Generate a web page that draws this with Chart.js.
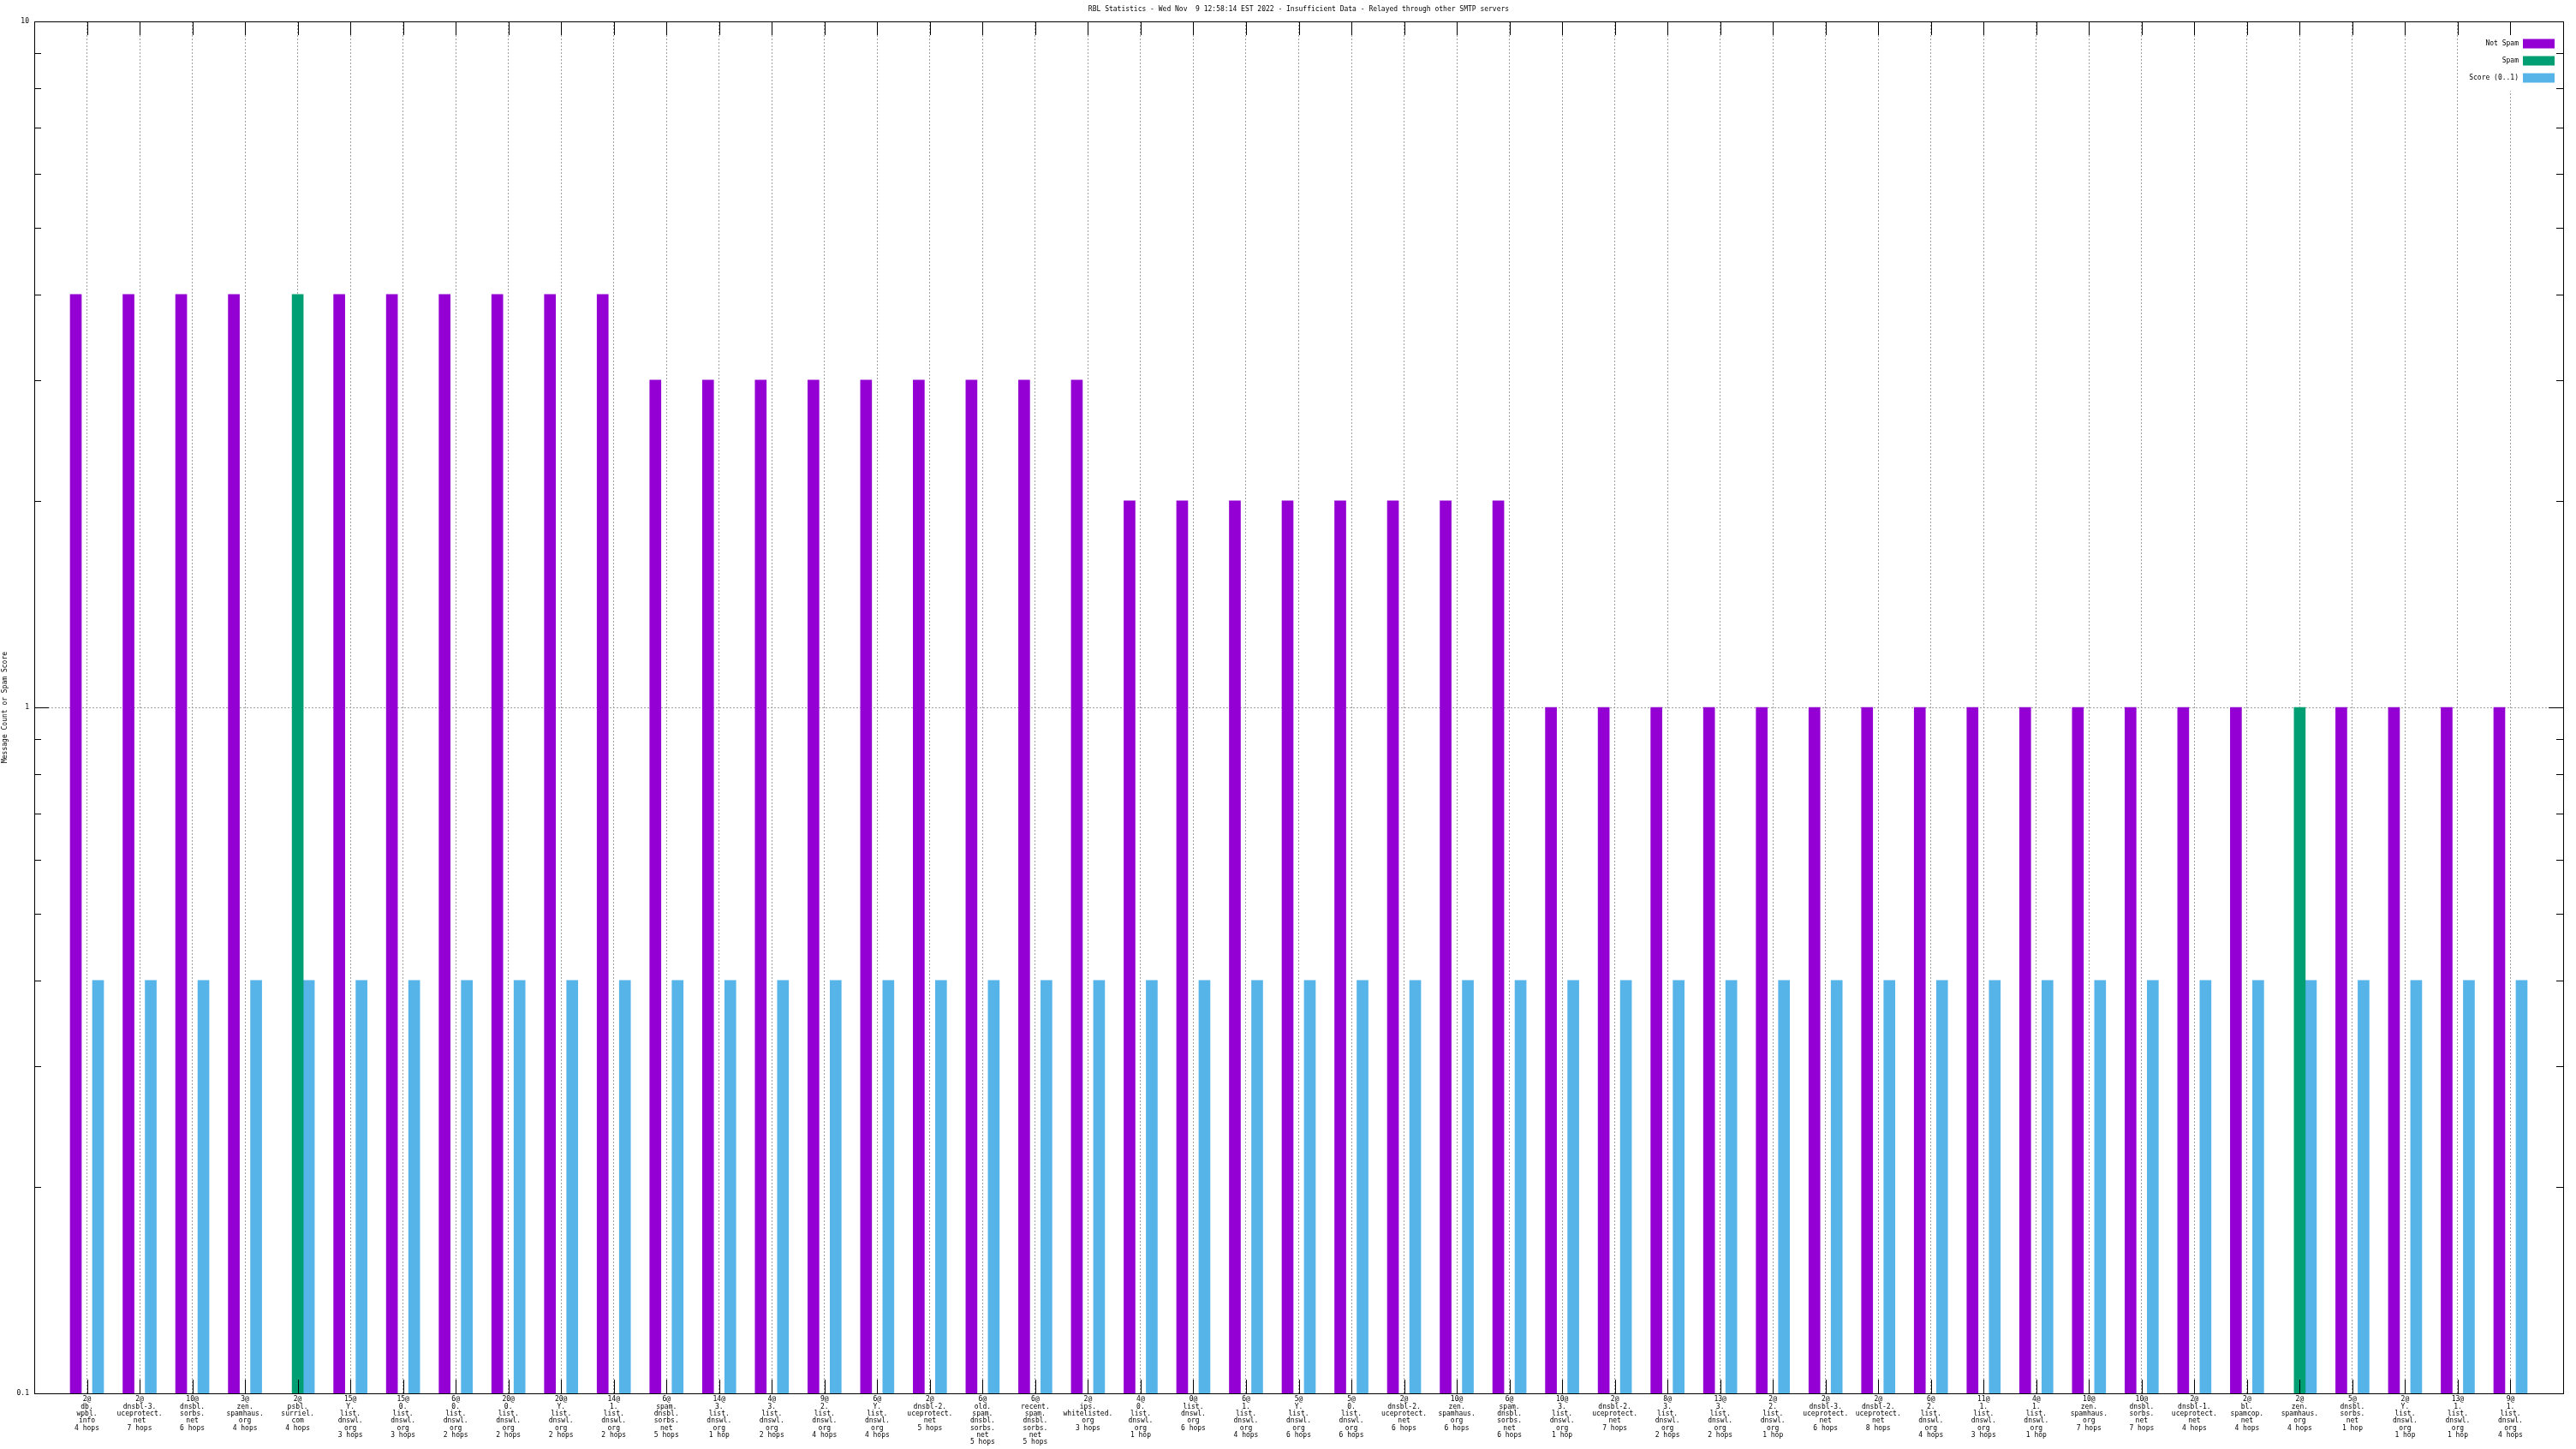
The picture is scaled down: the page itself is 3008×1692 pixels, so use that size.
<!DOCTYPE html>
<html><head><meta charset="utf-8">
<script src="https://cdn.jsdelivr.net/npm/chart.js@4/dist/chart.umd.min.js"></script>
<style>html,body{margin:0;padding:0;background:#fff;overflow:hidden}#c{display:block}</style>
</head><body><canvas id="c" width="3008" height="1692"></canvas>
<script>
const TITLE = 'RBL Statistics - Wed Nov  9 12:58:14 EST 2022 - Insufficient Data - Relayed through other SMTP servers';
const Y_TITLE = 'Message Count or Spam Score';
const seriesNames = ['Not Spam', 'Spam', 'Score (0..1)'];
const seriesColors = ['#9400d3', '#009e73', '#56b4e9'];
const categories = [
  "2@|db.|wpbl.|info|4 hops",
  "2@|dnsbl-3.|uceprotect.|net|7 hops",
  "10@|dnsbl.|sorbs.|net|6 hops",
  "3@|zen.|spamhaus.|org|4 hops",
  "2@|psbl.|surriel.|com|4 hops",
  "15@|Y.|list.|dnswl.|org|3 hops",
  "15@|0.|list.|dnswl.|org|3 hops",
  "6@|0.|list.|dnswl.|org|2 hops",
  "20@|0.|list.|dnswl.|org|2 hops",
  "20@|Y.|list.|dnswl.|org|2 hops",
  "14@|1.|list.|dnswl.|org|2 hops",
  "6@|spam.|dnsbl.|sorbs.|net|5 hops",
  "14@|3.|list.|dnswl.|org|1 hop",
  "4@|3.|list.|dnswl.|org|2 hops",
  "9@|2.|list.|dnswl.|org|4 hops",
  "6@|Y.|list.|dnswl.|org|4 hops",
  "2@|dnsbl-2.|uceprotect.|net|5 hops",
  "6@|old.|spam.|dnsbl.|sorbs.|net|5 hops",
  "6@|recent.|spam.|dnsbl.|sorbs.|net|5 hops",
  "2@|ips.|whitelisted.|org|3 hops",
  "4@|0.|list.|dnswl.|org|1 hop",
  "0@|list.|dnswl.|org|6 hops",
  "6@|1.|list.|dnswl.|org|4 hops",
  "5@|Y.|list.|dnswl.|org|6 hops",
  "5@|0.|list.|dnswl.|org|6 hops",
  "2@|dnsbl-2.|uceprotect.|net|6 hops",
  "10@|zen.|spamhaus.|org|6 hops",
  "6@|spam.|dnsbl.|sorbs.|net|6 hops",
  "10@|3.|list.|dnswl.|org|1 hop",
  "2@|dnsbl-2.|uceprotect.|net|7 hops",
  "8@|3.|list.|dnswl.|org|2 hops",
  "13@|3.|list.|dnswl.|org|2 hops",
  "2@|2.|list.|dnswl.|org|1 hop",
  "2@|dnsbl-3.|uceprotect.|net|6 hops",
  "2@|dnsbl-2.|uceprotect.|net|8 hops",
  "6@|2.|list.|dnswl.|org|4 hops",
  "11@|1.|list.|dnswl.|org|3 hops",
  "4@|1.|list.|dnswl.|org|1 hop",
  "10@|zen.|spamhaus.|org|7 hops",
  "10@|dnsbl.|sorbs.|net|7 hops",
  "2@|dnsbl-1.|uceprotect.|net|4 hops",
  "2@|bl.|spamcop.|net|4 hops",
  "2@|zen.|spamhaus.|org|4 hops",
  "5@|dnsbl.|sorbs.|net|1 hop",
  "2@|Y.|list.|dnswl.|org|1 hop",
  "13@|1.|list.|dnswl.|org|1 hop",
  "9@|1.|list.|dnswl.|org|4 hops"
];
const notSpam = [4,4,4,4,null,4,4,4,4,4,4, 3,3,3,3,3,3,3,3,3, 2,2,2,2,2,2,2,2, 1,1,1,1,1,1,1,1,1,1,1,1,1,1,null,1,1,1,1];
const spam = [null,null,null,null,4,null,null,null,null,null,null, null,null,null,null,null,null,null,null,null, null,null,null,null,null,null,null,null, null,null,null,null,null,null,null,null,null,null,null,null,null,null,1,null,null,null,null];
const score = [0.4,0.4,0.4,0.4,0.4,0.4,0.4,0.4,0.4,0.4,0.4, 0.4,0.4,0.4,0.4,0.4,0.4,0.4,0.4,0.4, 0.4,0.4,0.4,0.4,0.4,0.4,0.4,0.4, 0.4,0.4,0.4,0.4,0.4,0.4,0.4,0.4,0.4,0.4,0.4,0.4,0.4,0.4,0.4,0.4,0.4,0.4,0.4];
const yTickValues = [0.1, 1, 10];
const yTickLabels = ['0.1', '1', '10'];
const yMinorValues = [0.2,0.3,0.4,0.5,0.6,0.7,0.8,0.9,2,3,4,5,6,7,8,9];

const FONT_FAMILY = '"DejaVu Sans Mono", "Liberation Mono", monospace';
const font = {family: FONT_FAMILY, size: 8, lineHeight: 1.04};
const labelLines = categories.map(s => s.split('|'));
const seriesData = [notSpam, spam, score];

const gnuplotFrame = {
  id: 'gnuplotFrame',
  afterDatasetsDraw(chart) {
    const {ctx, chartArea: a, scales} = chart;
    const xs = scales.x, ys = scales.y;
    ctx.save();
    // opaque key box
    ctx.fillStyle = '#fff';
    ctx.fillRect(a.right - 118, a.top + 16, 110, 65);
    // key
    ctx.font = '8px ' + FONT_FAMILY;
    ctx.textAlign = 'right';
    ctx.textBaseline = 'middle';
    chart.data.datasets.forEach((ds, i) => {
      const cy = a.top + 26 + i * 20;
      const bx = a.right - 10 - 37;
      ctx.fillStyle = ds.backgroundColor;
      ctx.fillRect(bx, cy - 5.5, 37, 11);
      ctx.fillStyle = '#000';
      ctx.fillText(ds.label, bx - 5, cy);
    });
    // ticks
    ctx.strokeStyle = '#000';
    ctx.lineWidth = 1;
    ctx.beginPath();
    xs.ticks.forEach(t => {
      const x = Math.round(xs.getPixelForValue(t.value)) + 0.5;
      ctx.moveTo(x, a.bottom); ctx.lineTo(x, a.bottom - 16);
      ctx.moveTo(x, a.top); ctx.lineTo(x, a.top + 16);
    });
    yTickValues.forEach(v => {
      const y = Math.round(ys.getPixelForValue(v)) + 0.5;
      ctx.moveTo(a.left, y); ctx.lineTo(a.left + 17, y);
      ctx.moveTo(a.right, y); ctx.lineTo(a.right - 17, y);
    });
    yMinorValues.forEach(v => {
      const y = Math.round(ys.getPixelForValue(v)) + 0.5;
      ctx.moveTo(a.left, y); ctx.lineTo(a.left + 8, y);
      ctx.moveTo(a.right, y); ctx.lineTo(a.right - 8, y);
    });
    ctx.stroke();
    // border
    ctx.strokeRect(Math.round(a.left) + 0.5, Math.round(a.top) + 0.5,
                   Math.round(a.right - a.left), Math.round(a.bottom - a.top));
    ctx.restore();
  }
};

new Chart(document.getElementById('c'), {
  type: 'bar',
  data: {
    datasets: seriesNames.map((name, k) => ({
      label: name,
      data: seriesData[k].map((v, i) => ({x: i, y: v})),
      backgroundColor: seriesColors[k],
      borderWidth: 0,
      barThickness: 13
    }))
  },
  options: {
    responsive: false,
    animation: false,
    devicePixelRatio: 1,
    layout: {padding: {right: 15, left: 0, top: 0, bottom: 0}},
    plugins: {
      legend: {display: false},
      tooltip: {enabled: false},
      title: {display: true, text: TITLE, color: '#000', fullSize: false,
              font: {family: FONT_FAMILY, size: 8, lineHeight: 1.2, weight: 'normal'},
              padding: {top: 6, bottom: 9.4}}
    },
    scales: {
      x: {
        type: 'linear', min: -1, max: 47, offset: false,
        afterBuildTicks: s => { s.ticks = categories.map((_, i) => ({value: i})); },
        ticks: {autoSkip: false, maxRotation: 0, minRotation: 0, padding: 3, color: '#000', font,
                callback: v => labelLines[v] || ''},
        grid: {drawTicks: false, offset: false, color: '#a0a0a0', lineWidth: 1},
        border: {display: false, dash: [2, 2]},
        afterFit: s => { s.height = 65; }
      },
      y: {
        type: 'logarithmic', min: 0.1, max: 10,
        afterBuildTicks: s => { s.ticks = yTickValues.map(v => ({value: v})); },
        ticks: {autoSkip: false, padding: 6, color: '#000', font,
                callback: (v, i) => yTickLabels[i]},
        grid: {drawTicks: false, lineWidth: 1,
               color: c => (c.tick && c.tick.value === 1) ? '#a0a0a0' : 'rgba(0,0,0,0)'},
        border: {display: false, dash: [2, 2]},
        title: {display: true, text: Y_TITLE, color: '#000', font, padding: {top: 2, bottom: 0}},
        afterFit: s => { s.width = 40; }
      }
    }
  },
  plugins: [gnuplotFrame]
});
</script>
</body></html>
